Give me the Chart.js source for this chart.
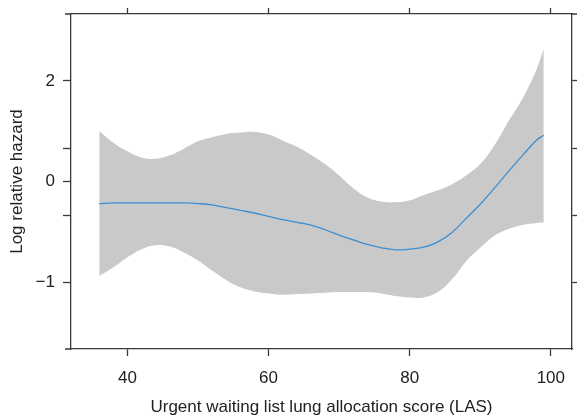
<!DOCTYPE html>
<html>
<head>
<meta charset="utf-8">
<script src="https://cdn.jsdelivr.net/npm/chart.js@4/dist/chart.umd.min.js"></script>
<style>
  html, body { margin: 0; padding: 0; background: #fff; }
  #wrap { width: 577px; height: 418px; }
</style>
</head>
<body>
<div id="wrap"><canvas id="hazardChart"></canvas></div>
<script>
// LAS values along the x axis
const las = [36, 38, 40, 42, 44, 46, 48, 50, 52, 54, 56, 58, 60, 62, 64, 66, 68, 70, 72, 74, 76, 78, 80, 82, 84, 86, 88, 90, 92, 94, 96, 98, 99];

// estimated log relative hazard
const hazard = [0.17, 0.18, 0.18, 0.18, 0.18, 0.18, 0.18, 0.17, 0.15, 0.11, 0.07, 0.03, -0.02, -0.07, -0.11, -0.15, -0.22, -0.30, -0.37, -0.44, -0.49, -0.52, -0.51, -0.48, -0.40, -0.26, -0.05, 0.16, 0.40, 0.65, 0.89, 1.12, 1.19];

// confidence band
const upper = [1.25, 1.08, 0.95, 0.86, 0.84, 0.89, 0.99, 1.10, 1.16, 1.21, 1.23, 1.24, 1.20, 1.11, 1.02, 0.90, 0.76, 0.59, 0.40, 0.26, 0.20, 0.19, 0.22, 0.30, 0.37, 0.46, 0.59, 0.76, 1.04, 1.40, 1.74, 2.18, 2.48];
const lower = [-0.91, -0.78, -0.63, -0.51, -0.45, -0.47, -0.56, -0.68, -0.83, -0.97, -1.08, -1.14, -1.17, -1.19, -1.18, -1.17, -1.16, -1.15, -1.15, -1.15, -1.17, -1.21, -1.23, -1.23, -1.15, -0.96, -0.69, -0.49, -0.31, -0.21, -0.15, -0.12, -0.11];

// axis ticks as printed on the figure
const xTicks = [40, 60, 80, 100];
const yTicksLeft = [2, 1, 0.5, 0, -1];
const yTickLabelsLeft = ['2', '', '0', '', '\u22121'];
const yTicksRight = [2, 1, 0, -1];

const toPts = ys => ys.map((y, i) => ({ x: las[i], y: y }));

const axisColor = '#3a3a3a';
const textColor = '#222';
const font = { family: 'Liberation Sans, Arial, sans-serif', size: 17 };

const frameExt = {
    id: 'frameExt',
    afterDraw(chart) {
        const { ctx, chartArea: a } = chart;
        ctx.save();
        ctx.strokeStyle = axisColor;
        ctx.lineWidth = 1.3;
        ctx.beginPath();
        ctx.moveTo(a.left - 6, a.top); ctx.lineTo(a.left, a.top);
        ctx.moveTo(a.right, a.top); ctx.lineTo(chart.width, a.top);
        ctx.moveTo(a.left - 6, a.bottom); ctx.lineTo(a.left, a.bottom);
        ctx.stroke();
        ctx.restore();
    }
};

const sideScale = (pos, size) => ({
    position: pos,
    type: 'linear',
    grid: { drawOnChartArea: false, tickLength: 6, color: axisColor, tickWidth: 1.3 },
    border: { color: axisColor, width: 1.3 },
    ticks: { display: false },
    afterFit: s => {
        if (pos === 'top') s.height = size; else s.width = size;
        s.paddingTop = 0; s.paddingBottom = 0;
    }
});

new Chart(document.getElementById('hazardChart'), {
    type: 'line',
    data: {
        datasets: [{
            data: toPts(hazard),
            borderColor: '#3b8fd4',
            borderWidth: 1.3,
            pointRadius: 0,
            tension: 0.4,
            fill: false,
            xAxisID: 'x',
            yAxisID: 'y'
        }, {
            data: toPts(upper),
            borderWidth: 0,
            borderColor: 'rgba(0,0,0,0)',
            backgroundColor: '#c9c9c9',
            pointRadius: 0,
            tension: 0.4,
            fill: '+1',
            xAxisID: 'x',
            yAxisID: 'y'
        }, {
            data: toPts(lower),
            borderWidth: 0,
            borderColor: 'rgba(0,0,0,0)',
            pointRadius: 0,
            tension: 0.4,
            fill: false,
            xAxisID: 'x',
            yAxisID: 'y'
        }]
    },
    options: {
        responsive: true,
        maintainAspectRatio: false,
        animation: false,
        layout: { padding: 0 },
        plugins: { legend: { display: false }, tooltip: { enabled: false } },
        scales: {
            x: {
                type: 'linear',
                position: 'bottom',
                min: 32,
                max: 103,
                afterBuildTicks: s => { s.ticks = xTicks.map(v => ({ value: v })); },
                grid: { drawOnChartArea: false, tickLength: 7, color: axisColor, tickWidth: 1.3 },
                border: { color: axisColor, width: 1.3 },
                ticks: { color: textColor, font: font, padding: 12, maxRotation: 0 },
                title: {
                    display: true,
                    text: 'Urgent waiting list lung allocation score (LAS)',
                    color: textColor,
                    font: font,
                    padding: { top: 0, bottom: 0 }
                },
                afterFit: s => { s.height = 418 - 349; s.paddingLeft = 0; s.paddingRight = 0; }
            },
            x2: Object.assign(sideScale('top', 14), {
                min: 32, max: 103,
                afterBuildTicks: s => { s.ticks = xTicks.map(v => ({ value: v })); }
            }),
            y: {
                type: 'linear',
                position: 'left',
                min: -2,
                max: 3,
                afterBuildTicks: s => { s.ticks = yTicksLeft.map(v => ({ value: v })); },
                grid: { drawOnChartArea: false, tickLength: 8, color: axisColor, tickWidth: 1.3 },
                border: { color: axisColor, width: 1.3 },
                ticks: {
                    color: textColor,
                    font: font,
                    padding: 8,
                    callback: (v, i) => yTickLabelsLeft[i]
                },
                title: {
                    display: true,
                    text: 'Log relative hazard',
                    color: textColor,
                    font: font,
                    padding: { top: 7, bottom: 0 }
                },
                afterFit: s => { s.width = 71; s.paddingTop = 0; s.paddingBottom = 0; }
            },
            y2: Object.assign(sideScale('right', 5), {
                min: -2, max: 3,
                afterBuildTicks: s => { s.ticks = yTicksRight.map(v => ({ value: v })); }
            })
        }
    },
    plugins: [frameExt]
});
</script>
</body>
</html>
